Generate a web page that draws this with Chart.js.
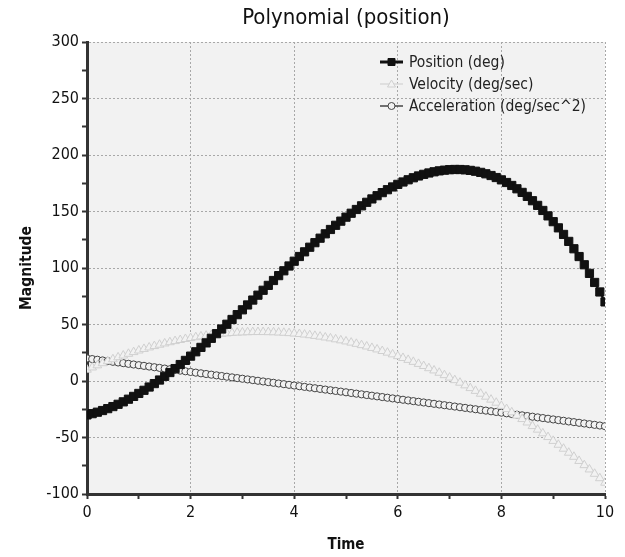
<!DOCTYPE html>
<html>
<head>
<meta charset="utf-8">
<script src="https://cdn.jsdelivr.net/npm/chart.js@4/dist/chart.umd.min.js"></script>
<style>
  html, body { margin: 0; padding: 0; background: #ffffff; }
  #wrap { width: 625px; height: 557px; }
</style>
</head>
<body>
<div id="wrap"><canvas id="myChart" width="625" height="557"></canvas></div>
<script>
var time = [0,0.1,0.2,0.3,0.4,0.5,0.6,0.7,0.8,0.9,1,1.1,1.2,1.3,1.4,1.5,1.6,1.7,1.8,1.9,
  2,2.1,2.2,2.3,2.4,2.5,2.6,2.7,2.8,2.9,3,3.1,3.2,3.3,3.4,3.5,3.6,3.7,3.8,3.9,
  4,4.1,4.2,4.3,4.4,4.5,4.6,4.7,4.8,4.9,5,5.1,5.2,5.3,5.4,5.5,5.6,5.7,5.8,5.9,
  6,6.1,6.2,6.3,6.4,6.5,6.6,6.7,6.8,6.9,7,7.1,7.2,7.3,7.4,7.5,7.6,7.7,7.8,7.9,
  8,8.1,8.2,8.3,8.4,8.5,8.6,8.7,8.8,8.9,9,9.1,9.2,9.3,9.4,9.5,9.6,9.7,9.8,9.9,10];

var position = [-30,-28.9,-27.61,-26.13,-24.46,-22.63,-20.62,-18.44,-16.11,-13.63,
  -11,-8.23,-5.33,-2.3,0.86,4.13,7.5,10.99,14.57,18.24,
  22,25.84,29.75,33.73,37.78,41.88,46.02,50.22,54.45,58.71,
  63,67.31,71.63,75.96,80.3,84.63,88.94,93.25,97.53,101.78,
  106,110.18,114.31,118.39,122.42,126.38,130.26,134.08,137.81,141.45,
  145,148.45,151.79,155.02,158.14,161.13,163.98,166.71,169.29,171.72,
  174,176.12,178.07,179.85,181.46,182.88,184.1,185.14,185.97,186.59,
  187,187.19,187.15,186.88,186.38,185.63,184.62,183.37,181.85,180.06,
  178,175.66,173.03,170.11,166.9,163.38,159.54,155.4,150.93,146.13,
  141,135.53,129.71,123.54,117.02,110.13,102.86,95.23,87.21,78.8,70];

var velocity = [10,11.97,13.88,15.73,17.52,19.25,20.92,22.53,24.08,25.57,
  27,28.37,29.68,30.93,32.12,33.25,34.32,35.33,36.28,37.17,
  38,38.77,39.48,40.13,40.72,41.25,41.72,42.13,42.48,42.77,
  43,43.17,43.28,43.33,43.32,43.25,43.12,42.93,42.68,42.37,
  42,41.57,41.08,40.53,39.92,39.25,38.52,37.73,36.88,35.97,
  35,33.97,32.88,31.73,30.52,29.25,27.92,26.53,25.08,23.57,
  22,20.37,18.68,16.93,15.12,13.25,11.32,9.33,7.28,5.17,
  3,0.77,-1.52,-3.87,-6.28,-8.75,-11.28,-13.87,-16.52,-19.23,
  -22,-24.83,-27.72,-30.67,-33.68,-36.75,-39.88,-43.07,-46.32,-49.63,
  -53,-56.43,-59.92,-63.47,-67.08,-70.75,-74.48,-78.27,-82.12,-86.03,-90];

var acceleration = [20,19.4,18.8,18.2,17.6,17,16.4,15.8,15.2,14.6,
  14,13.4,12.8,12.2,11.6,11,10.4,9.8,9.2,8.6,
  8,7.4,6.8,6.2,5.6,5,4.4,3.8,3.2,2.6,
  2,1.4,0.8,0.2,-0.4,-1,-1.6,-2.2,-2.8,-3.4,
  -4,-4.6,-5.2,-5.8,-6.4,-7,-7.6,-8.2,-8.8,-9.4,
  -10,-10.6,-11.2,-11.8,-12.4,-13,-13.6,-14.2,-14.8,-15.4,
  -16,-16.6,-17.2,-17.8,-18.4,-19,-19.6,-20.2,-20.8,-21.4,
  -22,-22.6,-23.2,-23.8,-24.4,-25,-25.6,-26.2,-26.8,-27.4,
  -28,-28.6,-29.2,-29.8,-30.4,-31,-31.6,-32.2,-32.8,-33.4,
  -34,-34.6,-35.2,-35.8,-36.4,-37,-37.6,-38.2,-38.8,-39.4,-40];

var seriesNames = ["Position (deg)", "Velocity (deg/sec)", "Acceleration (deg/sec^2)"];

function pairs(ys) {
  return time.map(function (t, i) { return { x: t, y: ys[i] }; });
}

var FONT = "'DejaVu Sans Condensed', 'DejaVu Sans', sans-serif";

// grey plot background
var plotBg = {
  id: 'plotBg',
  beforeDraw: function (chart) {
    var a = chart.chartArea, c = chart.ctx;
    c.save();
    c.fillStyle = '#f2f2f2';
    c.fillRect(a.left, a.top, a.right - a.left, a.bottom - a.top);
    c.restore();
  }
};

// legend drawn inside the plot, line + marker samples
var innerLegend = {
  id: 'innerLegend',
  afterDraw: function (chart) {
    var c = chart.ctx, a = chart.chartArea;
    var x0 = a.left + 293, y0 = a.top + 20, gap = 22;
    c.save();
    c.font = '15.5px ' + FONT;
    c.textBaseline = 'middle';
    chart.data.datasets.forEach(function (ds, i) {
      var y = y0 + i * gap;
      var mx = x0 + 11.5;
      c.strokeStyle = ds.borderColor;
      c.lineWidth = i === 0 ? 3 : 1.5;
      c.beginPath(); c.moveTo(x0, y); c.lineTo(x0 + 23, y); c.stroke();
      c.fillStyle = ds.pointBackgroundColor;
      c.strokeStyle = ds.pointBorderColor;
      c.lineWidth = 1;
      c.beginPath();
      if (ds.pointStyle === 'rect') {
        c.rect(mx - 3.5, y - 3.5, 7, 7);
      } else if (ds.pointStyle === 'triangle') {
        c.moveTo(mx, y - 4); c.lineTo(mx + 4, y + 3); c.lineTo(mx - 4, y + 3); c.closePath();
      } else {
        c.arc(mx, y, 3.5, 0, Math.PI * 2);
      }
      c.fill(); c.stroke();
      c.fillStyle = '#222';
      c.fillText(ds.label, x0 + 29, y + 1);
    });
    c.restore();
  }
};

var ctx = document.getElementById('myChart');
var myChart = new Chart(ctx, {
  type: 'line',
  data: {
    datasets: [{
      label: seriesNames[0],
      data: pairs(position),
      borderColor: '#111111',
      backgroundColor: '#111111',
      borderWidth: 2,
      pointStyle: 'rect',
      pointRadius: 5.8,
      pointBackgroundColor: '#111111',
      pointBorderColor: '#111111',
      pointBorderWidth: 1
    }, {
      label: seriesNames[1],
      data: pairs(velocity),
      borderColor: '#d8d8d8',
      backgroundColor: '#d8d8d8',
      borderWidth: 1.5,
      pointStyle: 'triangle',
      pointRadius: 5,
      pointBackgroundColor: '#f2f2f2',
      pointBorderColor: '#d0d0d0',
      pointBorderWidth: 1
    }, {
      label: seriesNames[2],
      data: pairs(acceleration),
      borderColor: '#444444',
      backgroundColor: '#444444',
      borderWidth: 1.5,
      pointStyle: 'circle',
      pointRadius: 3.6,
      pointBackgroundColor: '#f2f2f2',
      pointBorderColor: '#444444',
      pointBorderWidth: 1
    }]
  },
  options: {
    responsive: false,
    animation: false,
    layout: { padding: { left: 10, right: 20, top: 0, bottom: 0 } },
    plugins: {
      legend: { display: false },
      tooltip: { enabled: false },
      title: {
        display: true,
        text: 'Polynomial (position)',
        fullSize: false,
        color: '#111',
        font: { family: FONT, size: 22, weight: 'normal' },
        padding: { top: 5, bottom: 10.6 }
      }
    },
    scales: {
      x: {
        type: 'linear',
        min: 0, max: 10,
        afterFit: function (s) { s.height = 63; },
        ticks: {
          stepSize: 1,
          autoSkip: false,
          maxRotation: 0,
          padding: 4,
          color: '#111',
          font: { family: FONT, size: 16 },
          callback: function (v) { return v % 2 === 0 ? String(v) : ''; }
        },
        grid: {
          color: function (c) { return c.tick && c.tick.value % 2 === 0 ? '#a8a8a8' : 'rgba(0,0,0,0)'; },
          lineWidth: 1,
          drawTicks: true,
          tickLength: 5,
          tickColor: '#333',
          tickWidth: 2
        },
        border: { display: true, color: '#333', width: 3, dash: [2, 2] },
        title: {
          display: true, text: 'Time', color: '#111',
          font: { family: FONT, size: 15, weight: 'bold' },
          padding: { top: 0, bottom: 3 }
        }
      },
      y: {
        min: -100, max: 300,
        afterFit: function (s) { s.width = 77; },
        ticks: {
          stepSize: 25,
          autoSkip: false,
          padding: 3,
          color: '#111',
          font: { family: FONT, size: 16 },
          callback: function (v) { return v % 50 === 0 ? String(v) : ''; }
        },
        grid: {
          color: function (c) { return c.tick && c.tick.value % 50 === 0 ? '#a8a8a8' : 'rgba(0,0,0,0)'; },
          lineWidth: 1,
          drawTicks: true,
          tickLength: 5,
          tickColor: '#333',
          tickWidth: 2
        },
        border: { display: true, color: '#333', width: 3, dash: [2, 2] },
        title: {
          display: true, text: 'Magnitude', color: '#111',
          font: { family: FONT, size: 15.5, weight: 'bold' },
          padding: { top: 8, bottom: 0 }
        }
      }
    }
  },
  plugins: [plotBg, innerLegend]
});
</script>
</body>
</html>
